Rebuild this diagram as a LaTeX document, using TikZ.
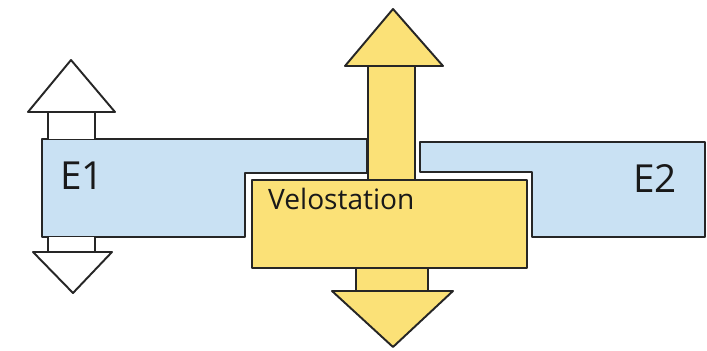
\documentclass[tikz,border=0pt]{standalone}
\usepackage{fontspec}
\setmainfont{Open Sans}
\usepackage{tikz}
\usetikzlibrary{positioning}
\definecolor{zonecol}{RGB}{178,212,238}
\definecolor{velocol}{RGB}{250,220,95}

\begin{document}
\begin{tikzpicture}[
  x=0.02cm, y=-0.02cm,
  outline/.style={draw=black!85, line width=1.1pt, line join=round},
  zone/.style={outline, fill=zonecol!70},
  velo/.style={outline, fill=velocol!85},
  exit/.style={outline, fill=white},
  zonelabel/.style={font=\fontsize{22}{24}\selectfont, text=black!90},
  velolabel/.style={font=\fontsize{16}{18}\selectfont, text=black!90, anchor=west}
]
  \useasboundingbox (0,0) rectangle (707,351);

  % Ebenen
  \draw[zone] (42,139) -- (367,139) -- (367,173) -- (245,173)
              -- (245,237) -- (42,237) -- cycle;
  \draw[zone] (420,142) -- (705,142) -- (705,237) -- (532,237)
              -- (532,172) -- (420,172) -- cycle;
  \node[zonelabel] (e1) at (82,176) {E1};
  \node[zonelabel] (e2) at (655,179) {E2};

  % Zugaenge E1
  \draw[exit] (48,139) -- (48,112) -- (95,112) -- (95,139);
  \draw[exit] (28,112) -- (71,60) -- (115,112) -- cycle;
  \draw[exit] (48,237) -- (48,252) -- (95,252) -- (95,237);
  \draw[exit] (33,252) -- (73,293) -- (112,252) -- cycle;

  % Velostation
  \draw[velo] (368,180) -- (368,66) -- (415,66) -- (415,180);
  \draw[velo] (345,66) -- (393,9) -- (443,66) -- cycle;
  \draw[velo] (356,268) -- (356,291) -- (428,291) -- (428,268);
  \draw[velo] (332,291) -- (393,347) -- (453,291) -- cycle;
  \node[velo, minimum width=275*0.02cm, minimum height=88*0.02cm,
        inner sep=0pt] (velo) at (389.5,224) {};
  \node[velolabel] (velotext) at (262,199) {Velostation};
\end{tikzpicture}
\end{document}
